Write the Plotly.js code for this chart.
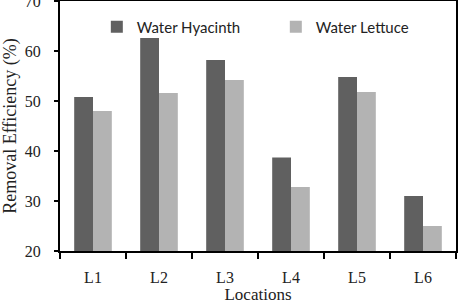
<!DOCTYPE html>
<html>
<head>
<meta charset="utf-8">
<script src="https://cdn.plot.ly/plotly-3.0.1.min.js"></script>
<style>html,body{margin:0;padding:0;background:#fff;}#chart{width:463px;height:304px;}</style>
</head>
<body>
<div id="chart"></div>
<script>
const locations = ["L1", "L2", "L3", "L4", "L5", "L6"];
const waterHyacinth = [50.8, 62.6, 58.2, 38.7, 54.8, 31.0];
const waterLettuce = [48.0, 51.6, 54.2, 32.8, 51.8, 25.0];
const yTicks = [20, 30, 40, 50, 60, 70];

const traces = [
  {type: "bar", name: "Water Hyacinth", x: locations, y: waterHyacinth,
   marker: {color: "#606060"}, legend: "legend"},
  {type: "bar", name: "Water Lettuce", x: locations, y: waterLettuce,
   marker: {color: "#b3b3b3"}, legend: "legend2"}
];

const serif = "Liberation Serif, Times New Roman, serif";
const legendFont = {family: "Lato, Open Sans, sans-serif", size: 15, color: "#222"};

const layout = {
  width: 463, height: 304,
  margin: {l: 60, r: 7, t: 1, b: 53},
  paper_bgcolor: "#fff", plot_bgcolor: "#fff",
  barmode: "group", bargap: 0.43, bargroupgap: 0,
  showlegend: true,
  legend: {orientation: "h", x: 0.093, y: 0.962, xanchor: "left", yanchor: "top",
           bgcolor: "rgba(0,0,0,0)", font: legendFont, itemwidth: 30},
  legend2: {orientation: "h", x: 0.545, y: 0.962, xanchor: "left", yanchor: "top",
           bgcolor: "rgba(0,0,0,0)", font: legendFont, itemwidth: 30},
  xaxis: {
    type: "category", tickson: "boundaries", ticks: "outside", ticklen: 6, tickwidth: 1.5,
    tickcolor: "#000", showline: true, linecolor: "#000", linewidth: 2, mirror: true,
    showgrid: false, ticklabelstandoff: 11,
    tickfont: {family: serif, size: 16, color: "#222"},
    title: {text: "Locations", font: {family: serif, size: 17, color: "#222"}, standoff: 0}
  },
  yaxis: {
    range: [20, 70], tickvals: yTicks, ticks: "outside", ticklen: 4, tickwidth: 1.5,
    tickcolor: "#000", showline: true, linecolor: "#000", linewidth: 2, mirror: true,
    showgrid: false, zeroline: false, ticklabeloverflow: "allow", ticklabelstandoff: 10,
    tickfont: {family: serif, size: 16, color: "#222"},
    title: {text: "Removal Efficiency (%)", font: {family: serif, size: 18, color: "#222"}, standoff: 8}
  }
};

Plotly.newPlot("chart", traces, layout, {displayModeBar: false, staticPlot: true});
</script>
</body>
</html>
